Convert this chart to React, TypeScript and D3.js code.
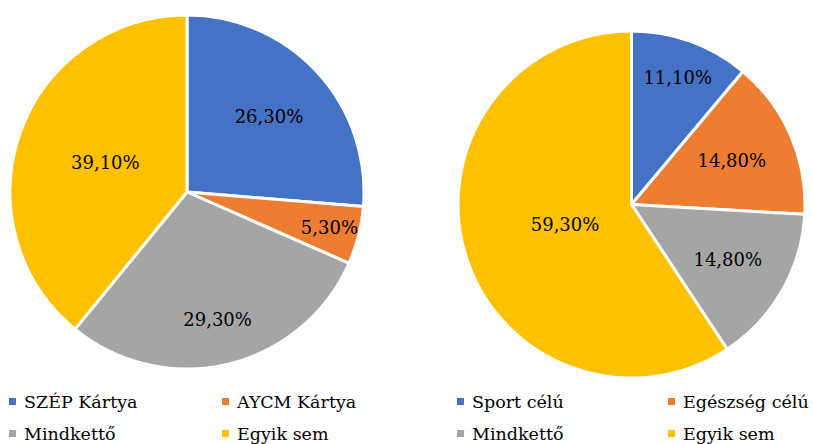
import React from "react";
import * as d3 from "d3";

// left chart: kártya típus
const leftCategories = ["SZÉP Kártya", "AYCM Kártya", "Mindkettő", "Egyik sem"];
const leftValues = [26.3, 5.3, 29.3, 39.1];
// right chart: cél
const rightCategories = ["Sport célú", "Egészség célú", "Mindkettő", "Egyik sem"];
const rightValues = [11.1, 14.8, 14.8, 59.3];

const colors = ["#4472C4", "#ED7D31", "#A5A5A5", "#FFC000"];

const W = 813;
const H = 444;
const FONT = "'DejaVu Serif', 'Liberation Serif', Times, serif";

const fmt = (v: number) => v.toFixed(2).replace(".", ",") + "%";

type PieProps = {
  values: number[];
  cx: number;
  cy: number;
  r: number;
  labelPos: number[]; // fraction of radius where each label sits
};

function Pie({ values, cx, cy, r, labelPos }: PieProps) {
  const pie = d3.pie<number>().sort(null).value((d) => d);
  const arcs = pie(values);
  const arc = d3.arc<d3.PieArcDatum<number>>().innerRadius(0).outerRadius(r);
  return (
    <g transform={`translate(${cx},${cy})`}>
      {arcs.map((a, i) => (
        <path key={i} d={arc(a) || ""} fill={colors[i]} stroke="#fff" strokeWidth={3} strokeLinejoin="round" />
      ))}
      {arcs.map((a, i) => {
        const lr = r * labelPos[i];
        const [x, y] = d3.arc<d3.PieArcDatum<number>>().innerRadius(lr).outerRadius(lr).centroid(a);
        return (
          <text key={"t" + i} x={x} y={y} dy="0.35em" textAnchor="middle" fontSize={18} fill="#000" style={{ fontFamily: FONT }}>
            {fmt(values[i])}
          </text>
        );
      })}
    </g>
  );
}

function Legend({ items, x, y, col2 }: { items: string[]; x: number; y: number; col2: number }) {
  return (
    <g>
      {items.map((t, i) => {
        const lx = x + (i % 2) * col2;
        const ly = y + Math.floor(i / 2) * 32;
        return (
          <g key={i}>
            <rect x={lx} y={ly - 10} width={7} height={7} fill={colors[i]} />
            <text x={lx + 15} y={ly} fontSize={17.5} fill="#000" style={{ fontFamily: FONT }}>
              {t}
            </text>
          </g>
        );
      })}
    </g>
  );
}

export default function App() {
  return (
    <svg width={W} height={H} style={{ position: "absolute", left: 0, top: 0, background: "#fff" }}>
      <Pie values={leftValues} cx={187} cy={192} r={177} labelPos={[0.63, 0.83, 0.74, 0.49]} />
      <Pie values={rightValues} cx={631.5} cy={204.5} r={173.5} labelPos={[0.78, 0.63, 0.64, 0.4]} />
      <Legend items={leftCategories} x={9} y={408} col2={213} />
      <Legend items={rightCategories} x={457} y={408} col2={211} />
    </svg>
  );
}
